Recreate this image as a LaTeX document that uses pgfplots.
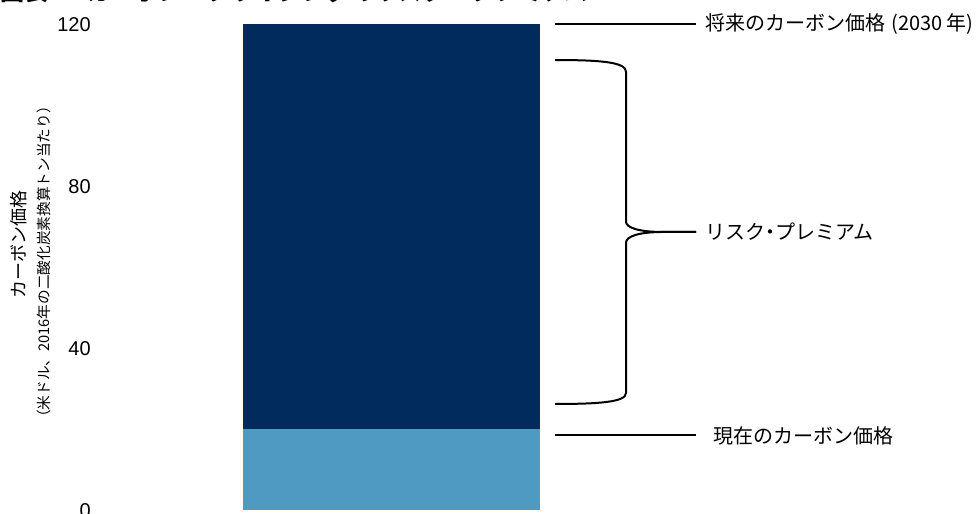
\documentclass[border=0pt]{standalone}
\usepackage{fontspec}
\usepackage{pgfplots}
\pgfplotsset{compat=1.18}
\setmainfont{Liberation Sans}
\newfontfamily\jp{Noto Sans CJK JP}
\definecolor{navy}{HTML}{002B5C}
\definecolor{lblue}{HTML}{4E9AC2}
\begin{document}
\begin{tikzpicture}
\begin{axis}[
  at={(68.25pt,0pt)}, anchor=south west,
  scale only axis, width=666pt, height=385.5pt,
  xmin=91, xmax=979, ymin=-0.864, ymax=126.05,
  axis line style={draw=none}, major tick length=0pt,
  xtick=\empty, ytick={0,40,80,120},
  yticklabel style={inner sep=0pt, anchor=east, font=\fontsize{15}{18}\selectfont},
  /pgf/number format/assume math mode=true,
  clip=false,
  ybar stacked, bar width=297,
]
\addplot[fill=lblue, draw=none] coordinates {(391.5,20)};
\addplot[fill=navy, draw=none] coordinates {(391.5,100)};

% title (cut off at the top, as in the reference)
\node[anchor=base west, inner sep=0pt, font=\jp\bfseries\fontsize{18}{20}\selectfont] at (axis cs:0,125.9) {図表1．カーボン・プライシングのリスク・プレミアム};

% y label
\node[rotate=90, inner sep=0pt, font=\jp\fontsize{13.5}{15}\selectfont] at (axis cs:19,65.8) {カーボン価格};
\node[rotate=90, inner sep=0pt, font=\jp\fontsize{11}{12}\selectfont] at (axis cs:44,61.36) {（米ドル、2016年の二酸化炭素換算トン当たり）};

% annotations
\draw[line width=1.5pt] (axis cs:555,120) -- (axis cs:696,120);
\draw[line width=1.5pt] (axis cs:555,18.52) -- (axis cs:696,18.52);
\draw[line width=1.5pt, line join=round]
  (axis cs:555,111.23) .. controls (axis cs:600,111.23) and (axis cs:626,110.74) .. (axis cs:626,108.35)
  -- (axis cs:626,71.31) .. controls (axis cs:626,69.75) and (axis cs:640,68.77) .. (axis cs:663,68.77)
  -- (axis cs:696,68.77);
\draw[line width=1.5pt, line join=round]
  (axis cs:696,68.77) -- (axis cs:663,68.77) .. controls (axis cs:640,68.77) and (axis cs:626,67.78) .. (axis cs:626,66.12)
  -- (axis cs:626,29.01) .. controls (axis cs:626,26.79) and (axis cs:600,26.30) .. (axis cs:555,26.30);

\node[anchor=west, inner sep=0pt, font=\jp\fontsize{15}{18}\selectfont] at (axis cs:705,120) {将来のカーボン価格\hspace{0.3em}(2030 年)};
\node[anchor=west, inner sep=0pt, font=\jp\fontsize{15}{18}\selectfont] at (axis cs:705,68.77) {リスク\kern-0.25em・\kern-0.25emプレミアム};
\node[anchor=west, inner sep=0pt, font=\jp\fontsize{15}{18}\selectfont] at (axis cs:713,18.52) {現在のカーボン価格};
\end{axis}
\pgfresetboundingbox
\path[use as bounding box] (0,0) rectangle (734.25pt,385.5pt);
\end{tikzpicture}
\end{document}
